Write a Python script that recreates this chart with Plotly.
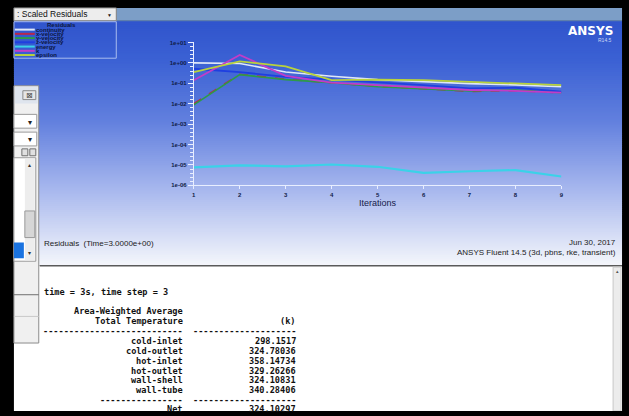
import plotly.graph_objects as go

W, H = 629, 416

# ---------------- data ----------------
iterations = [1, 2, 3, 4, 5, 6, 7, 8, 9]
series_names = ["continuity", "x-velocity", "y-velocity", "z-velocity", "energy", "k", "epsilon"]
continuity = [1.0, 0.93, 0.355, 0.219, 0.151, 0.117, 0.0955, 0.083, 0.0676]
x_velocity = [0.0100, 0.275, 0.158, 0.102, 0.0708, 0.0537, 0.0398, 0.0437, 0.0339]
y_velocity = [0.0087, 0.263, 0.151, 0.107, 0.0676, 0.0513, 0.0417, 0.0468, 0.0347]
z_velocity = [0.513, 0.355, 0.204, 0.151, 0.117, 0.0813, 0.0562, 0.0603, 0.0389]
energy = [7.6e-6, 9.5e-6, 8.5e-6, 1.05e-5, 8.1e-6, 4.1e-6, 4.9e-6, 5.6e-6, 2.7e-6]
k_res = [0.141, 2.45, 0.229, 0.107, 0.0813, 0.0603, 0.0468, 0.0427, 0.0347]
epsilon = [0.355, 1.17, 0.676, 0.141, 0.151, 0.141, 0.117, 0.0977, 0.0813]
series_values = [continuity, x_velocity, y_velocity, z_velocity, energy, k_res, epsilon]
series_colors = ["#dfe7f8", "#b8284a", "#2e9a48", "#1f3fe0", "#3ad2e8", "#c23cc8", "#b9d23c"]
series_dash = ["solid", "dash", "solid", "solid", "solid", "solid", "solid"]
series_width = [1.6, 1.6, 1.6, 1.8, 2.2, 1.8, 1.8]

y_tick_vals = [10, 1, 0.1, 0.01, 0.001, 0.0001, 0.00001, 0.000001]
y_tick_text = ["1e+01", "1e+00", "1e-01", "1e-02", "1e-03", "1e-04", "1e-05", "1e-06"]
x_tick_vals = [1, 2, 3, 4, 5, 6, 7, 8, 9]

console_names = ["cold-inlet", "cold-outlet", "hot-inlet", "hot-outlet", "wall-shell", "wall-tube"]
console_values = ["298.1517", "324.78036", "358.14734", "329.26266", "324.10831", "340.28406"]
net_value = "324.10297"


def X(p):
    return p / W


def Y(p):
    return 1 - p / H


shapes = []


def rect(x0, y0, x1, y1, fill, line=None, lw=1, layer="below"):
    shapes.append(dict(type="rect", xref="paper", yref="paper",
                       x0=X(x0), x1=X(x1), y0=Y(y1), y1=Y(y0),
                       fillcolor=fill, layer=layer,
                       line=dict(color=line if line else "rgba(0,0,0,0)", width=lw if line else 0)))


def hline(x0, x1, y, color, lw=1, dash="solid", layer="below"):
    shapes.append(dict(type="line", xref="paper", yref="paper",
                       x0=X(x0), x1=X(x1), y0=Y(y), y1=Y(y),
                       line=dict(color=color, width=lw, dash=dash), layer=layer))


# gradient background of graphics window
stops = [(18, (48, 84, 204)), (60, (60, 98, 212)), (120, (98, 128, 222)),
         (180, (158, 176, 236)), (232, (210, 218, 245)), (266, (244, 246, 251))]
top, bot = 18, 266
n = (bot - top) // 2
for i in range(n):
    y0 = top + 2 * i
    y1 = min(y0 + 3, bot)
    ym = y0 + 1
    for j in range(len(stops) - 1):
        if stops[j][0] <= ym <= stops[j + 1][0]:
            t = (ym - stops[j][0]) / (stops[j + 1][0] - stops[j][0])
            c = [round(stops[j][1][q] + t * (stops[j + 1][1][q] - stops[j][1][q])) for q in range(3)]
            break
    rect(12, y0, 624, y1, "rgb(%d,%d,%d)" % tuple(c))

# toolbar strip and dropdown
rect(115, 5, 624, 18, "#7c9ec7")
hline(115, 624, 18, "#5f7fb0", 1)
rect(12, 5, 115, 18, "#ededed", "#8a8a8a", 1)
# legend box
rect(12, 19, 115, 56, "rgba(0,0,0,0)", "#a8bcef", 1)
leg_y = [27, 31.3, 35.6, 39.9, 44.2, 48.5, 52.8]
for col, yy in zip(series_colors, leg_y):
    hline(13, 33, yy, col, 2)

# console area
rect(12, 266, 624, 416, "#ffffff")
hline(38, 624, 266.5, "#5a5a5a", 1.5)
rect(615, 268, 623, 414, "#ececec", "#c8c8c8", 1)
rect(0, 414, 629, 416, "#000000")

# left dialog panel
rect(12, 84, 37, 345, "#f0f0f0", "#8c8c8c", 1)
rect(13, 85, 36, 102, "#dfe5ee")
rect(21, 89, 34, 98, "#e6e6e6", "#8a8a8a", 1)
rect(12, 113, 35, 127, "#ffffff", "#9a9a9a", 1)
rect(12, 131, 35, 145, "#ffffff", "#9a9a9a", 1)
rect(20, 148, 26, 155, "#e0e0e0", "#707070", 1)
rect(28, 148, 34, 155, "#e0e0e0", "#707070", 1)
rect(12, 157, 34, 262, "#ffffff", "#9a9a9a", 1)
rect(23, 158, 33, 261, "#ededed")
rect(23, 211, 33, 238, "#d6d6d6", "#9a9a9a", 1)
rect(12, 243, 22, 259, "#1a73e0")
hline(12, 37, 296, "#707070", 1)
hline(12, 37, 318, "#c8c8c8", 1)

annotations = []


def txt(x, y, s, size, color, anchor="left", family="Liberation Sans", weight="normal", yanchor="middle"):
    annotations.append(dict(x=X(x), y=Y(y), xref="paper", yref="paper", text=s, showarrow=False,
                            xanchor=anchor, yanchor=yanchor,
                            font=dict(size=size, color=color, family=family, weight=weight)))


txt(13, 11.5, ": Scaled Residuals", 8.5, "#111111")
txt(108, 12, "▼", 5, "#222222", anchor="center")
txt(60, 22.5, "Residuals", 6, "#0a1440", anchor="center", weight="bold")
for name, yy in zip(series_names, leg_y):
    txt(32, yy, name, 6, "#0a1440", weight="bold")
txt(617, 28, "ANSYS", 12, "#ffffff", anchor="right", family="DejaVu Sans", weight="bold")
txt(616, 38, "R14.5", 5, "#c8d6f4", anchor="right")

txt(27.5, 93.5, "⊠", 8, "#444444", anchor="center", family="DejaVu Sans")
txt(28, 121, "▾", 8, "#222222", anchor="center", family="DejaVu Sans")
txt(28, 139, "▾", 8, "#222222", anchor="center", family="DejaVu Sans")
txt(28, 164, "▴", 6, "#333333", anchor="center", family="DejaVu Sans")
txt(28, 253, "▾", 6, "#333333", anchor="center", family="DejaVu Sans")
txt(619, 272, "▴", 5, "#555555", anchor="center", family="DejaVu Sans")

txt(40, 244, "Residuals  (Time=3.0000e+00)", 8, "#222222")
txt(620, 243, "Jun 30, 2017", 8, "#222222", anchor="right")
txt(620, 253, "ANSYS Fluent 14.5 (3d, pbns, rke, transient)", 8, "#222222", anchor="right")

mono = "DejaVu Sans Mono"
cs = 8.6
ink = "#111111"
txt(40, 293, "time = 3s, time step = 3", cs, ink, family=mono, weight="bold")
txt(184, 313, "Area-Weighted Average", cs, ink, anchor="right", family=mono, weight="bold")
txt(184, 323, "Total Temperature", cs, ink, anchor="right", family=mono, weight="bold")
txt(298, 323, "(k)", cs, ink, anchor="right", family=mono, weight="bold")
txt(184, 333, "-" * 27, cs, ink, anchor="right", family=mono, weight="bold")
txt(298, 333, "-" * 20, cs, ink, anchor="right", family=mono, weight="bold")
for i, (nm, vv) in enumerate(zip(console_names, console_values)):
    yy = 343 + 10 * i
    txt(184, yy, nm, cs, ink, anchor="right", family=mono, weight="bold")
    txt(298, yy, vv, cs, ink, anchor="right", family=mono, weight="bold")
txt(184, 403, "-" * 16, cs, ink, anchor="right", family=mono, weight="bold")
txt(298, 403, "-" * 20, cs, ink, anchor="right", family=mono, weight="bold")
txt(184, 412, "Net", cs, ink, anchor="right", family=mono, weight="bold")
txt(298, 412, net_value, cs, ink, anchor="right", family=mono, weight="bold")

fig = go.Figure()
for name, vals, col, dsh, lw in zip(series_names, series_values, series_colors, series_dash, series_width):
    fig.add_trace(go.Scatter(x=iterations, y=vals, mode="lines", name=name,
                             line=dict(color=col, width=lw, dash=dsh), showlegend=False))

minor_vals = []
for d in range(-6, 1):
    for f in (0.2, 0.4, 0.6, 0.8):
        minor_vals.append(10 ** (d + f))

fig.update_layout(
    width=W, height=H, autosize=False,
    margin=dict(l=0, r=0, t=0, b=0),
    paper_bgcolor="#000000", plot_bgcolor="rgba(0,0,0,0)",
    xaxis=dict(domain=[X(193), X(563)], range=[1, 9], tickvals=x_tick_vals,
               showgrid=False, zeroline=False, showline=True, linecolor="#e8eeff", linewidth=1,
               ticks="outside", ticklen=3, tickcolor="#e8eeff",
               tickfont=dict(size=6, color="#101c48", family="Liberation Sans", weight="bold"),
               title=dict(text="Iterations", font=dict(size=9, color="#16204a", family="Liberation Sans"),
                          standoff=2)),
    yaxis=dict(domain=[Y(185), Y(40)], type="log", range=[-6, 1],
               tickvals=y_tick_vals, ticktext=y_tick_text,
               showgrid=False, zeroline=False, showline=True, linecolor="#e8eeff", linewidth=1,
               ticks="outside", ticklen=5, tickcolor="#e8eeff",
               minor=dict(tickvals=minor_vals, ticks="outside", ticklen=3, tickcolor="#e8eeff"),
               tickfont=dict(size=6, color="#101c48", family="Liberation Sans", weight="bold")),
    shapes=shapes, annotations=annotations,
)

fig.write_html("out.html", config={"displayModeBar": False},
               post_script="document.body.style.margin='0';document.body.style.overflow='hidden';")
